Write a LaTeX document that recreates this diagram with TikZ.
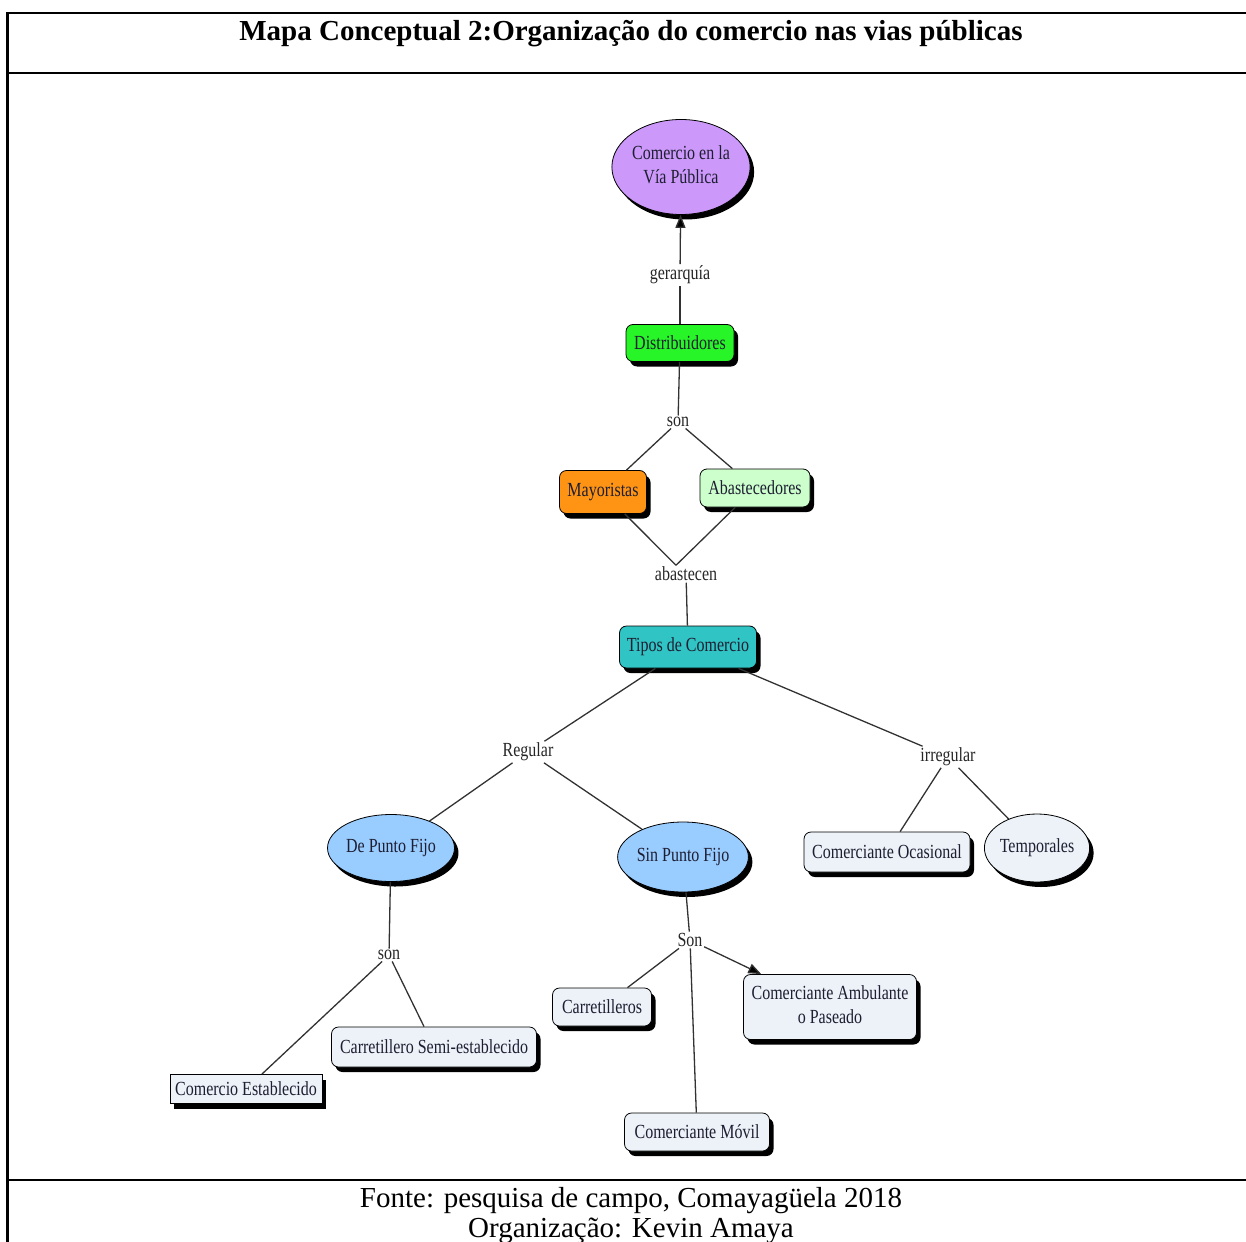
\documentclass[tikz,border=0pt]{standalone}
\usepackage{fontspec}
\setmainfont{Liberation Serif}
\usetikzlibrary{shapes.geometric,shadows,arrows.meta}
\definecolor{cpurple}{RGB}{204,153,250}
\definecolor{cgreen}{RGB}{40,245,40}
\definecolor{corange}{RGB}{255,148,20}
\definecolor{clgreen}{RGB}{204,255,204}
\definecolor{cteal}{RGB}{48,196,196}
\definecolor{cblue}{RGB}{153,204,255}
\definecolor{cgray}{RGB}{236,242,247}
\definecolor{ctext}{RGB}{30,30,50}
\definecolor{cline}{RGB}{50,50,50}
\newcommand{\cx}[1]{\scalebox{0.8}[1]{#1}}
\newcommand{\nf}{\fontsize{20}{24}\selectfont}
\tikzset{
  shad/.style={drop shadow={shadow xshift=4pt,shadow yshift=-5pt,fill=black,opacity=1}},
  box/.style={shad,draw=black,line width=0.8pt,rounded corners=7pt,font=\nf,text=ctext,inner sep=0pt,align=center},
  sqbox/.style={box,rounded corners=0pt},
  oval/.style={shad,ellipse,draw=black,line width=0.8pt,font=\nf,text=ctext,inner sep=0pt,align=center},
  lbl/.style={font=\nf,text=black!85,inner sep=1.5pt},
  conn/.style={draw=cline,line width=1.3pt},
  tip/.style={-{Triangle[length=13pt,width=10pt,fill=black]}},
  frame/.style={line width=2.5pt,black},
}
\begin{document}
\begin{tikzpicture}[x=1pt,y=-1pt]
\useasboundingbox (0,0) rectangle (1246,1241);
% frame
\draw[frame] (7.5,1260) -- (7.5,13) -- (1260,13);
\draw[frame] (7.5,73) -- (1260,73);
\draw[frame] (7.5,1180) -- (1260,1180);
\node[font=\bfseries\fontsize{29}{34}\selectfont] (title) at (631,34) {Mapa Conceptual 2:Organização do comercio nas vias públicas};
\node[font=\fontsize{29}{30}\selectfont,align=center,anchor=north] (foot) at (631,1184) {Fonte: pesquisa de campo, Comayagüela 2018\\Organização: Kevin Amaya};
% nodes
\node[oval,fill=cpurple,minimum width=134,minimum height=95] (root) at (681,167) {\cx{\begin{tabular}{@{}c@{}}Comercio en la\\Vía Pública\end{tabular}}};
\node[lbl] (ger) at (680,275) {\cx{gerarquía}};
\node[box,fill=cgreen,minimum width=108,minimum height=37] (dist) at (680,343) {\cx{Distribuidores}};
\node[lbl] (son1) at (678,422) {\cx{son}};
\node[box,fill=corange,minimum width=87,minimum height=43] (may) at (603,492) {\cx{Mayoristas}};
\node[box,fill=clgreen,minimum width=110,minimum height=38] (aba) at (755,488) {\cx{Abastecedores}};
\node[lbl] (abs) at (686,574) {\cx{abastecen}};
\node[box,fill=cteal,minimum width=137,minimum height=42] (tipos) at (688,647) {\cx{Tipos de Comercio}};
\node[lbl] (reg) at (528,752) {\cx{Regular}};
\node[lbl] (irr) at (948,757) {\cx{irregular}};
\node[oval,fill=cblue,minimum width=110,minimum height=67] (dpf) at (391,848) {\cx{De Punto Fijo}};
\node[oval,fill=cblue,minimum width=116,minimum height=70] (spf) at (683,857) {\cx{Sin Punto Fijo}};
\node[box,fill=cgray,minimum width=166,minimum height=40] (ocas) at (887,852) {\cx{Comerciante Ocasional}};
\node[oval,fill=cgray,minimum width=102,minimum height=68] (temp) at (1037,848) {\cx{Temporales}};
\node[lbl] (son2) at (389,955) {\cx{son}};
\node[sqbox,fill=cgray,minimum width=152,minimum height=29] (est) at (246,1089) {\cx{Comercio Establecido}};
\node[box,fill=cgray,minimum width=205,minimum height=40] (semi) at (434,1047) {\cx{Carretillero Semi-establecido}};
\node[lbl] (son3) at (690,940) {\cx{Son}};
\node[box,fill=cgray,minimum width=99,minimum height=38] (carr) at (602,1007) {\cx{Carretilleros}};
\node[box,fill=cgray,minimum width=173,minimum height=65] (amb) at (830,1007) {\cx{\begin{tabular}{@{}c@{}}Comerciante Ambulante\\o Paseado\end{tabular}}};
\node[box,fill=cgray,minimum width=145,minimum height=38] (movil) at (697,1132) {\cx{Comerciante Móvil}};
% connectors
\draw[conn] (dist) -- (ger);
\draw[conn,tip] (ger) -- (root);
\draw[conn] (dist) -- (son1);
\draw[conn] (son1) -- (may);
\draw[conn] (son1) -- (aba);
\draw[conn] (may) -- ([xshift=-10pt]abs.north);
\draw[conn] (aba) -- ([xshift=-10pt]abs.north);
\draw[conn] (abs) -- (tipos);
\draw[conn] (tipos) -- (reg);
\draw[conn] (tipos) -- (irr);
\draw[conn] (reg) -- (dpf);
\draw[conn] (reg) -- (spf);
\draw[conn] (irr) -- (ocas);
\draw[conn] (irr) -- (temp);
\draw[conn] (dpf) -- (son2);
\draw[conn] (son2) -- (est);
\draw[conn] (son2) -- (semi);
\draw[conn] (spf) -- (son3);
\draw[conn] (son3) -- (carr);
\draw[conn] (son3) -- (movil);
\draw[conn,tip] (son3) -- (amb);
\end{tikzpicture}
\end{document}
